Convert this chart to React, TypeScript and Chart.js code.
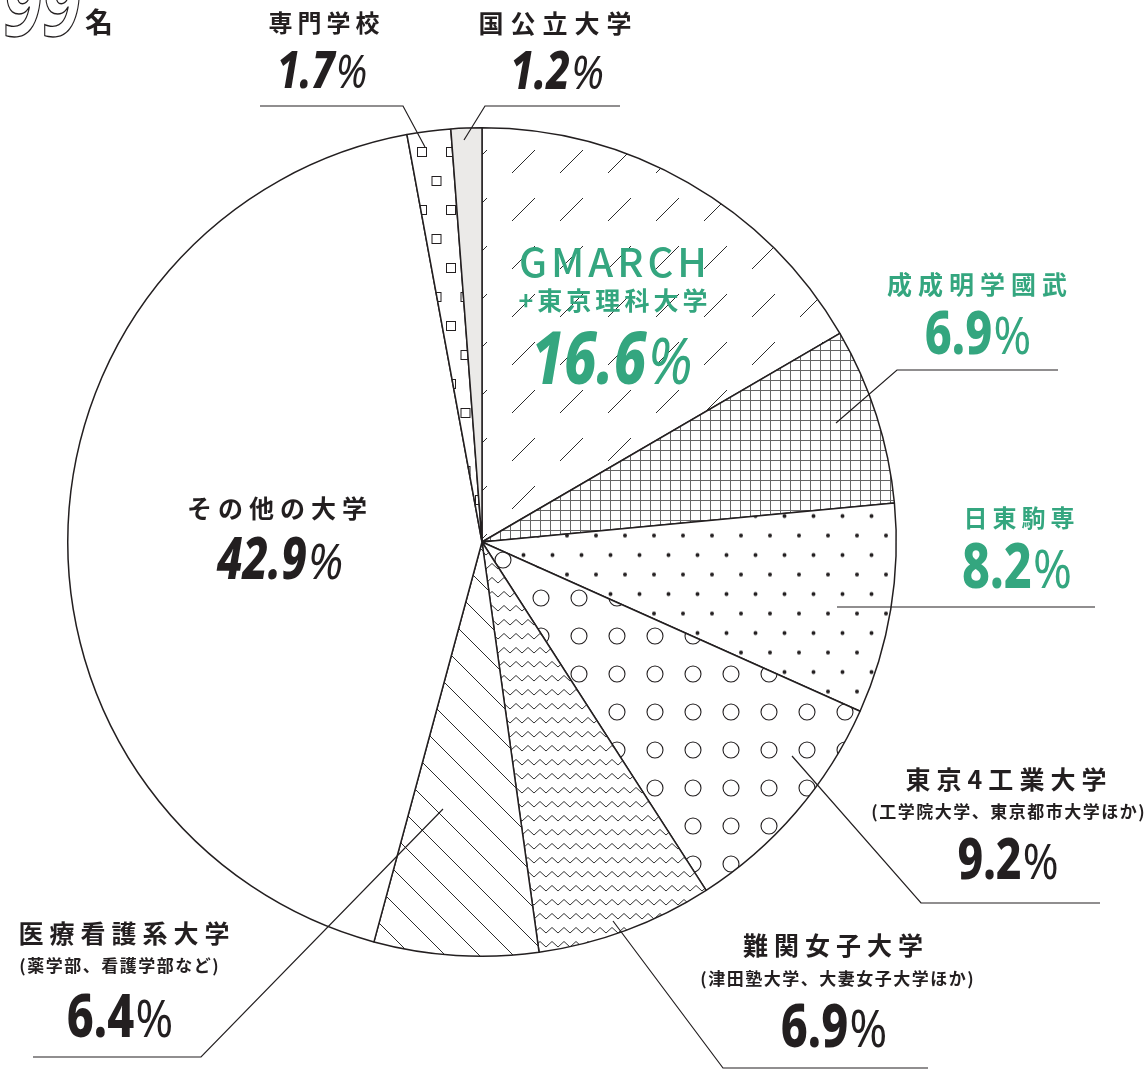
import React, { useEffect, useRef } from 'react';
import { Chart, registerables } from 'chart.js';

Chart.register(...registerables);

// ---------- data ----------
const totalRespondents = 99;
const categories = [
  'GMARCH\n+東京理科大学',
  '成成明学國武',
  '日東駒専',
  '東京4工業大学',
  '難関女子大学',
  '医療看護系大学',
  'その他の大学',
  '専門学校',
  '国公立大学',
];
const shares = [16.6, 6.9, 8.2, 9.2, 6.9, 6.4, 42.9, 1.7, 1.2];
const subtitles = [
  '',
  '',
  '',
  '(工学院大学、東京都市大学ほか)',
  '(津田塾大学、大妻女子大学ほか)',
  '(薬学部、看護学部など)',
  '',
  '',
  '',
];
const highlighted = [true, true, true, false, false, false, false, false, false];

// ---------- styles / layout ----------
const INK = '#231f20';
const GREEN = '#34a67f';
const JP = '"Noto Sans CJK JP", "Noto Sans", sans-serif';
const NUM = '"Noto Sans", "DejaVu Sans", sans-serif';

type Pt = [number, number];
interface LabelLayout {
  cx: number;
  titleY: number[];
  titleSize: number[];
  titleSpacing: number[];
  subY?: number;
  subCx?: number;
  pctCx: number;
  pctY: number;
  pctSize: number;
  italic: boolean;
  leader?: Pt[];
}

const labelLayout: LabelLayout[] = [
  { cx: 613, titleY: [262, 300], titleSize: [40, 25], titleSpacing: [4, 4], pctCx: 612, pctY: 357, pctSize: 74, italic: true },
  { cx: 977, titleY: [284], titleSize: [25], titleSpacing: [6], pctCx: 978, pctY: 332, pctSize: 60, italic: false, leader: [[1058, 370], [897, 370], [836, 423]] },
  { cx: 1019, titleY: [518], titleSize: [24], titleSpacing: [5], pctCx: 1017, pctY: 566, pctSize: 62, italic: false, leader: [[837, 607], [1095, 607]] },
  { cx: 1006, titleY: [779], titleSize: [25], titleSpacing: [6], subY: 812, subCx: 1008, pctCx: 1008, pctY: 858, pctSize: 57, italic: false, leader: [[792, 756], [921, 903], [1100, 903]] },
  { cx: 833, titleY: [945], titleSize: [25], titleSpacing: [6], subY: 979, subCx: 837, pctCx: 834, pctY: 1025, pctSize: 60, italic: false, leader: [[613, 921], [723, 1068], [928, 1068]] },
  { cx: 124, titleY: [933], titleSize: [25], titleSpacing: [6], subY: 966, subCx: 119, pctCx: 120, pctY: 1015, pctSize: 60, italic: false, leader: [[443, 809], [201, 1057], [33, 1057]] },
  { cx: 277, titleY: [508], titleSize: [25], titleSpacing: [6], pctCx: 280, pctY: 558, pctSize: 58, italic: true },
  { cx: 324, titleY: [23], titleSize: [24], titleSpacing: [5], pctCx: 322, pctY: 69, pctSize: 52, italic: true, leader: [[260, 106], [403, 106], [425, 147]] },
  { cx: 555, titleY: [23], titleSize: [25], titleSpacing: [7], pctCx: 557, pctY: 70, pctSize: 54, italic: true, leader: [[620, 106], [485, 106], [464, 140]] },
];

// ---------- patterns ----------
function makePattern(
  w: number,
  h: number,
  draw: (g: CanvasRenderingContext2D) => void,
  shift: [number, number] = [0, 0],
  bg = '#ffffff'
) {
  const c = document.createElement('canvas');
  c.width = w;
  c.height = h;
  const g = c.getContext('2d')!;
  g.fillStyle = bg;
  g.fillRect(0, 0, w, h);
  draw(g);
  const p = g.createPattern(c, 'repeat')!;
  if (shift[0] || shift[1]) {
    try {
      p.setTransform(new DOMMatrix().translate(shift[0], shift[1]));
    } catch (e) {
      /* ignore */
    }
  }
  return p;
}

function buildFills(): (CanvasPattern | string)[] {
  const slashes = makePattern(
    48,
    48,
    (g) => {
      g.strokeStyle = '#2c2c2c';
      g.lineWidth = 1;
      g.beginPath();
      g.moveTo(10, 36);
      g.lineTo(33, 13);
      g.stroke();
    },
    [22, -7]
  );
  const grid = makePattern(10, 10, (g) => {
    g.strokeStyle = '#666';
    g.lineWidth = 1;
    g.beginPath();
    g.moveTo(0.5, 0);
    g.lineTo(0.5, 10);
    g.moveTo(0, 0.5);
    g.lineTo(10, 0.5);
    g.stroke();
  });
  const dots = makePattern(
    29,
    39,
    (g) => {
      g.fillStyle = INK;
      g.beginPath();
      g.arc(7, 9, 2, 0, Math.PI * 2);
      g.arc(21.5, 28.5, 2, 0, Math.PI * 2);
      g.fill();
    },
    [9, 19.5]
  );
  const circles = makePattern(
    38,
    38,
    (g) => {
      g.strokeStyle = INK;
      g.lineWidth = 1.1;
      g.beginPath();
      g.arc(19, 19, 8, 0, Math.PI * 2);
      g.stroke();
    },
    [-10, 9]
  );
  const zigzag = makePattern(12, 14, (g) => {
    g.strokeStyle = '#333';
    g.lineWidth = 1;
    g.beginPath();
    g.moveTo(0, 3.5);
    g.lineTo(6, 9);
    g.lineTo(12, 3.5);
    g.stroke();
  });
  const diag = makePattern(34, 34, (g) => {
    g.strokeStyle = '#2c2c2c';
    g.lineWidth = 1;
    g.beginPath();
    g.moveTo(-2, -2);
    g.lineTo(36, 36);
    g.stroke();
  });
  const squares = makePattern(
    29,
    58,
    (g) => {
      g.strokeStyle = INK;
      g.lineWidth = 1;
      g.strokeRect(3.5, 3.5, 9, 9);
      g.strokeRect(18, 32.5, 9, 9);
    },
    [8, 28]
  );
  return [slashes, grid, dots, circles, zigzag, diag, '#ffffff', squares, '#ebeae8'];
}

// ---------- text helpers ----------
function drawSpaced(ctx: CanvasRenderingContext2D, text: string, cx: number, cy: number, font: string, spacing: number, color: string) {
  ctx.save();
  ctx.font = font;
  (ctx as any).letterSpacing = '0px';
  const base = ctx.measureText(text).width;
  const n = Array.from(text).length;
  const w = base + spacing * (n - 1);
  (ctx as any).letterSpacing = spacing + 'px';
  ctx.fillStyle = color;
  ctx.textAlign = 'left';
  ctx.textBaseline = 'middle';
  ctx.fillText(text, cx - w / 2, cy);
  ctx.restore();
}

function drawPercent(ctx: CanvasRenderingContext2D, value: number, cx: number, cy: number, size: number, italic: boolean, color: string) {
  const num = value.toFixed(1);
  const pct = '%';
  const sxNum = 0.78;
  const sxPct = 0.88;
  const numFont = `${italic ? 'italic ' : ''}800 ${size}px ${NUM}`;
  const pctFont = `${italic ? 'italic ' : ''}400 ${size * 0.86}px ${NUM}`;
  ctx.save();
  ctx.font = numFont;
  const wn = ctx.measureText(num).width * sxNum;
  ctx.font = pctFont;
  const wp = ctx.measureText(pct).width * sxPct;
  const gap = size * 0.02;
  const total = wn + gap + wp;
  const left = cx - total / 2;
  const base = cy + size * 0.36;
  ctx.fillStyle = color;
  ctx.textAlign = 'left';
  ctx.textBaseline = 'alphabetic';
  ctx.save();
  ctx.translate(left, base);
  ctx.scale(sxNum, 1);
  ctx.font = numFont;
  ctx.fillText(num, 0, 0);
  ctx.restore();
  ctx.save();
  ctx.translate(left + wn + gap, base);
  ctx.scale(sxPct, 1);
  ctx.font = pctFont;
  ctx.fillText(pct, 0, 0);
  ctx.restore();
  ctx.restore();
}

const labelPlugin = {
  id: 'pieLabels',
  afterDraw(chart: Chart) {
    const ctx = chart.ctx;
    // header "99名"
    ctx.save();
    ctx.font = `italic 700 88px ${NUM}`;
    ctx.translate(3, 36);
    ctx.scale(0.8, 1);
    ctx.lineWidth = 1.4;
    ctx.strokeStyle = INK;
    ctx.textBaseline = 'alphabetic';
    ctx.textAlign = 'left';
    ctx.strokeText(String(totalRespondents), 0, 0);
    ctx.restore();
    drawSpaced(ctx, '名', 99, 22, `700 28px ${JP}`, 0, INK);

    // leader lines
    ctx.save();
    ctx.strokeStyle = INK;
    ctx.lineWidth = 1.2;
    labelLayout.forEach((l) => {
      if (!l.leader) return;
      ctx.beginPath();
      l.leader.forEach(([x, y], i) => (i === 0 ? ctx.moveTo(x, y) : ctx.lineTo(x, y)));
      ctx.stroke();
    });
    ctx.restore();

    // labels
    categories.forEach((cat, i) => {
      const l = labelLayout[i];
      const color = highlighted[i] ? GREEN : INK;
      const lines = cat.split('\n');
      lines.forEach((line, j) => {
        const isLatin = /^[A-Z]+$/.test(line);
        const font = isLatin ? `500 ${l.titleSize[j]}px ${JP}` : `700 ${l.titleSize[j]}px ${JP}`;
        drawSpaced(ctx, line, l.cx, l.titleY[j], font, l.titleSpacing[j], color);
      });
      if (subtitles[i] && l.subY) {
        drawSpaced(ctx, subtitles[i], l.subCx ?? l.cx, l.subY, `700 17px ${JP}`, 1.5, color);
      }
      drawPercent(ctx, shares[i], l.pctCx, l.pctY, l.pctSize, l.italic, color);
    });
  },
};

export default function App() {
  const ref = useRef<HTMLCanvasElement | null>(null);
  useEffect(() => {
    if (!ref.current) return;
    const chart = new Chart(ref.current, {
      type: 'pie',
      data: {
        labels: categories,
        datasets: [
          {
            data: shares,
            backgroundColor: buildFills() as any,
            borderColor: INK,
            borderWidth: 1.5,
          },
        ],
      },
      options: {
        responsive: false,
        animation: false,
        events: [],
        layout: { padding: { left: 67, top: 127, right: 250, bottom: 113 } },
        plugins: {
          legend: { display: false },
          tooltip: { enabled: false },
        },
      },
      plugins: [labelPlugin as any],
    });
    return () => chart.destroy();
  }, []);
  return (
    <div style={{ position: 'absolute', left: 0, top: 0, width: 1147, height: 1070, background: '#ffffff' }}>
      <canvas ref={ref} width={1147} height={1070} style={{ display: 'block' }} />
    </div>
  );
}
